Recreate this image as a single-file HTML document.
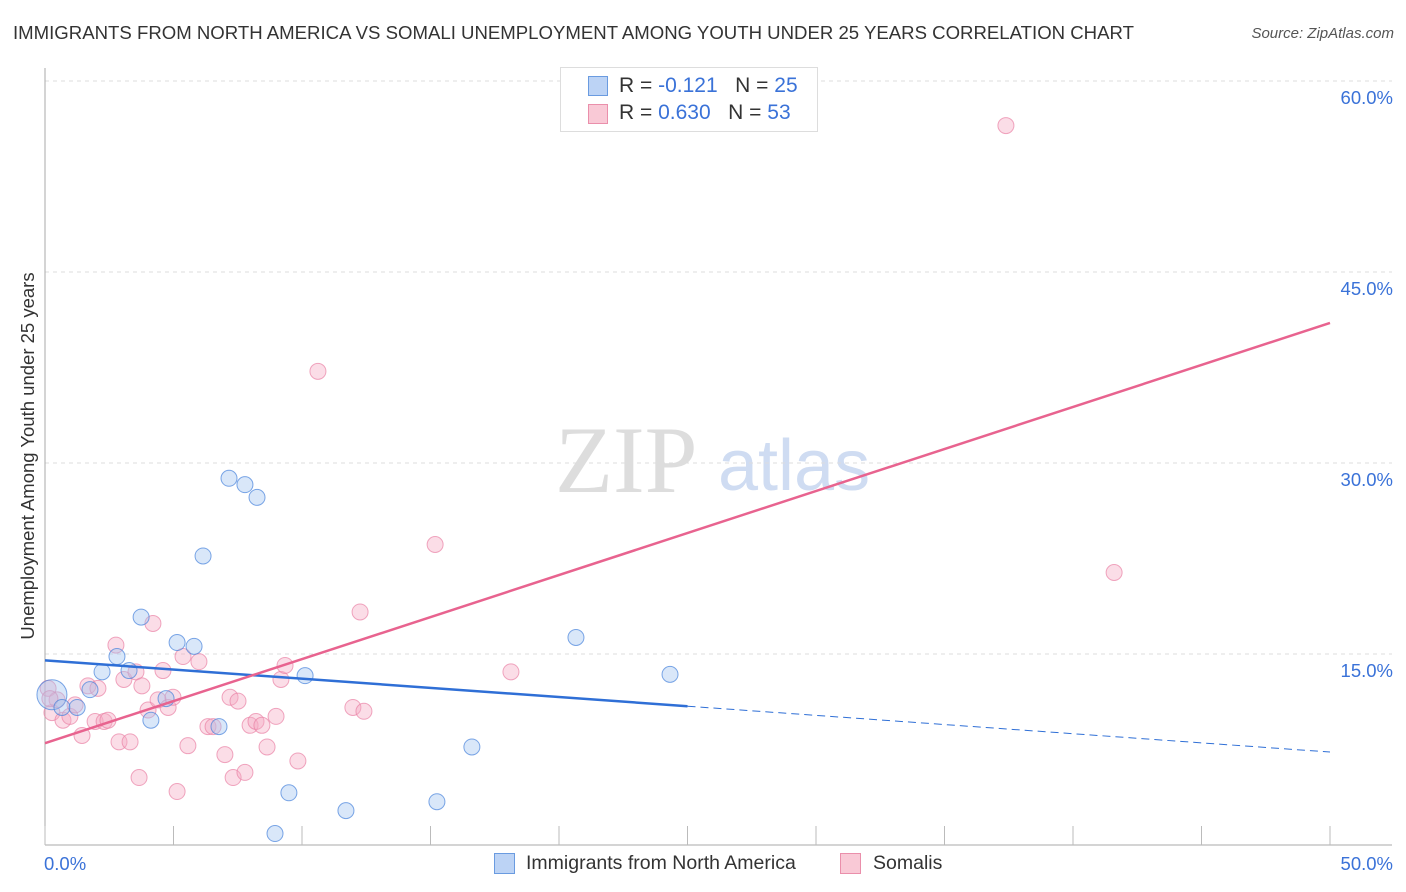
<!DOCTYPE html>
<html><head><meta charset="utf-8"><style>
body{margin:0;background:#fff;font-family:"Liberation Sans",sans-serif;}
#wrap{position:relative;width:1406px;height:892px;overflow:hidden;}
.t{position:absolute;white-space:nowrap;}
</style></head><body>
<div id="wrap">
<div class="t" style="left:13px;top:22px;font-size:18.6px;color:#333;">IMMIGRANTS FROM NORTH AMERICA VS SOMALI UNEMPLOYMENT AMONG YOUTH UNDER 25 YEARS CORRELATION CHART</div>
<div class="t" style="right:12px;top:25px;font-size:15px;color:#555;font-style:italic;">Source: ZipAtlas.com</div>
<svg id="svg" width="1406" height="892" style="position:absolute;left:0;top:0">
<text x="555" y="492" font-family="Liberation Serif" font-size="95" fill="#ddd">ZIP</text>
<text x="718" y="490" font-family="Liberation Sans" font-size="72" fill="#cfdcf2">atlas</text>
</svg>
<div style="position:absolute;left:560px;top:67px;width:256px;height:63px;border:1px solid #ddd;background:#fff;font-size:21px;">
<div style="position:absolute;left:27px;top:8px;width:18px;height:18px;background:#bcd3f5;border:1px solid #6a9be0"></div>
<div class="t" style="left:58px;top:6px;color:#333">R = <span style="color:#3a72d8">-0.121</span>&nbsp;&nbsp;&nbsp;N = <span style="color:#3a72d8">25</span></div>
<div style="position:absolute;left:27px;top:36px;width:18px;height:18px;background:#f9c9d6;border:1px solid #ea8fab"></div>
<div class="t" style="left:58px;top:33px;color:#333">R = <span style="color:#3a72d8">0.630</span>&nbsp;&nbsp;&nbsp;N = <span style="color:#3a72d8">53</span></div>
</div>
<div style="position:absolute;left:494px;top:852px;font-size:19.5px;color:#333;">
<div style="position:absolute;left:0;top:1px;width:19px;height:19px;background:#bcd3f5;border:1px solid #6a9be0"></div>
<div class="t" style="left:32px;top:0">Immigrants from North America</div>
<div style="position:absolute;left:346px;top:1px;width:19px;height:19px;background:#f9c9d6;border:1px solid #ea8fab"></div>
<div class="t" style="left:379px;top:0">Somalis</div>
</div>
</div>
<script>
const blueX=[0.27,0.66,1.25,1.75,2.22,2.80,3.27,3.74,4.12,4.71,5.14,5.80,6.15,6.77,7.16,7.78,8.25,8.95,9.49,10.12,11.71,15.25,16.61,20.66,24.32];
const blueY=[11.8,10.8,10.8,12.2,13.6,14.8,13.7,17.9,9.8,11.5,15.9,15.6,22.7,9.3,28.8,28.3,27.3,0.9,4.1,13.3,2.7,3.4,7.7,16.3,13.4];
const pinkX=[0.12,0.27,0.47,0.70,0.97,1.17,1.44,1.67,1.95,2.06,2.30,2.45,2.76,2.88,3.07,3.31,3.54,3.66,3.77,4.01,4.20,4.40,4.59,4.79,4.98,5.14,5.37,5.56,5.99,6.34,6.54,7.00,7.20,7.32,7.51,7.78,7.98,8.21,8.44,8.64,8.99,9.18,9.34,9.84,10.62,11.98,12.26,12.41,15.18,18.13,37.39,41.60,0.19];
const pinkY=[12.3,10.4,11.4,9.8,10.1,11.0,8.6,12.5,9.7,12.3,9.7,9.8,15.7,8.1,13.0,8.1,13.6,5.3,12.5,10.6,17.4,11.4,13.7,10.8,11.6,4.2,14.8,7.8,14.4,9.3,9.3,7.1,11.6,5.3,11.3,5.7,9.4,9.7,9.4,7.7,10.1,13.0,14.1,6.6,37.2,10.8,18.3,10.5,23.6,13.6,56.5,21.4,11.5];
const yTicks=[15,30,45,60];
const xTickVals=[0,5,10,15,20,25,30,35,40,45,50];
const blueTrend=[14.5,7.3]; // y at x=0, x=50
const pinkTrend=[8.0,41.0];
const blueSolidEnd=25;
const X0=45,X1=1330,Y0=845,YS=191/15;
const sx=v=>X0+(v/50)*(X1-X0), sy=v=>Y0-v*YS;
const svg=document.getElementById('svg'),NS='http://www.w3.org/2000/svg';
function mk(tag,attrs){const e=document.createElementNS(NS,tag);for(const k in attrs)e.setAttribute(k,attrs[k]);svg.appendChild(e);return e;}
yTicks.forEach(v=>{
 const g=mk('line',{x1:X0,x2:1392,y1:sy(v),y2:sy(v),stroke:'#ddd','stroke-dasharray':'4,4'});
 
 
 const t=mk('text',{x:1393,y:sy(v)+23,'text-anchor':'end','font-size':18.5,fill:'#3a72d8','font-family':'Liberation Sans'});
 t.textContent=v.toFixed(1)+'%';
 
 
});
const ax=mk('line',{x1:X0,x2:X0,y1:68,y2:Y0,stroke:'#aaa'});


const bx=mk('line',{x1:X0,x2:1392,y1:Y0,y2:Y0,stroke:'#aaa'});


xTickVals.forEach(v=>{
 const l=mk('line',{x1:sx(v),x2:sx(v),y1:826,y2:Y0,stroke:'#bbb'});
 
 
});
[[0,'start',44],[50,'end',1393]].forEach(([v,a,x])=>{
 const t=mk('text',{x:x,y:870,'text-anchor':a,'font-size':18.5,fill:'#3a72d8','font-family':'Liberation Sans'});
 t.textContent=v.toFixed(1)+'%';
 
 
});
const yt=mk('text',{x:0,y:0,'font-size':18.5,fill:'#333','font-family':'Liberation Sans','text-anchor':'middle',transform:'translate(34,456) rotate(-90)'});
yt.textContent='Unemployment Among Youth under 25 years';


pinkX.forEach((x,i)=>{
 const c=mk('circle',{cx:sx(x),cy:sy(pinkY[i]),r:8,fill:'rgba(246,170,194,0.4)',stroke:'rgba(234,130,165,0.7)'});
 
 
});
blueX.forEach((x,i)=>{
 const c=mk('circle',{cx:sx(x),cy:sy(blueY[i]),r:i==0?15:8,fill:'rgba(160,195,240,0.4)',stroke:'rgba(70,130,220,0.7)'});
 
 
});
const bt=x=>blueTrend[0]+(blueTrend[1]-blueTrend[0])*x/50;
const l1=mk('line',{x1:sx(0),y1:sy(bt(0)),x2:sx(blueSolidEnd),y2:sy(bt(blueSolidEnd)),stroke:'#2f6fd6','stroke-width':2.5});


const l2=mk('line',{x1:sx(blueSolidEnd),y1:sy(bt(blueSolidEnd)),x2:sx(50),y2:sy(bt(50)),stroke:'#2f6fd6','stroke-width':1,'stroke-dasharray':'8,5'});


const l3=mk('line',{x1:sx(0),y1:sy(pinkTrend[0]),x2:sx(50),y2:sy(pinkTrend[1]),stroke:'#e8638f','stroke-width':2.5});


</script>
</body></html>
